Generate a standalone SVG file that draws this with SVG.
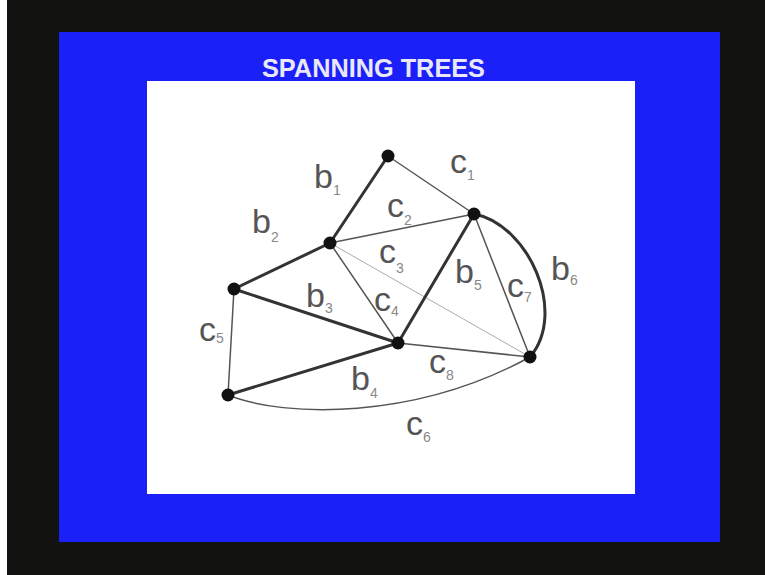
<svg xmlns="http://www.w3.org/2000/svg" width="765" height="575" viewBox="0 0 765 575">
<style>
.lbl{font-family:"Liberation Sans",Arial,sans-serif;font-size:34px;fill:#555}
.sub{font-size:14px;fill:#888}
.thick{stroke:#333;stroke-width:3;fill:none;stroke-linecap:round}
.thin{stroke:#555;stroke-width:1.5;fill:none;stroke-linecap:round}
.faint{stroke:#aaa;stroke-width:1;fill:none}
.node{fill:#111}
</style>
<rect x="0" y="0" width="765" height="575" fill="#121210"/>
<rect x="0" y="0" width="7" height="575" fill="#ffffff"/>
<rect x="59" y="32" width="661" height="510" fill="#1c20f8"/>
<rect x="147" y="81" width="488" height="413" fill="#ffffff"/>
<text x="373.5" y="77" text-anchor="middle" textLength="223" lengthAdjust="spacingAndGlyphs" font-family="Liberation Sans,Arial,sans-serif" font-weight="bold" font-size="25" fill="#e8e8f8">SPANNING TREES</text>
<g id="edges">
<path class="faint" d="M330,243 L530,357"/>
<path class="thick" d="M388,156 L330,243"/>
<path class="thin" d="M388,156 L474,214"/>
<path class="thin" d="M330,243 L474,214"/>
<path class="thick" d="M234,289 L330,243"/>
<path class="thin" d="M330,243 L398,343"/>
<path class="thick" d="M234,289 L398,343"/>
<path class="thick" d="M398,343 L474,214"/>
<path class="thin" d="M474,214 L530,357"/>
<path class="thick" d="M474,214 C528,224 568,312 530,357"/>
<path class="thin" d="M234,289 L228,395"/>
<path class="thick" d="M228,395 L398,343"/>
<path class="thin" d="M398,343 L530,357"/>
<path class="thin" d="M228,395 C285,418 415,420 530,357"/>
</g>
<g id="nA"><circle class="node" cx="388" cy="156" r="6.5"/></g>
<g id="nB"><circle class="node" cx="474" cy="214" r="6.5"/></g>
<g id="nC"><circle class="node" cx="330" cy="243" r="6.5"/></g>
<g id="nD"><circle class="node" cx="234" cy="289" r="6.5"/></g>
<g id="nE"><circle class="node" cx="398" cy="343" r="6.5"/></g>
<g id="nF"><circle class="node" cx="530" cy="357" r="6.5"/></g>
<g id="nG"><circle class="node" cx="228" cy="395" r="6.5"/></g>
<g id="labels">
<text class="lbl" x="314" y="188">b<tspan class="sub" dy="7">1</tspan></text>
<text class="lbl" x="450" y="173">c<tspan class="sub" dy="7">1</tspan></text>
<text class="lbl" x="252" y="233">b<tspan class="sub" dy="9">2</tspan></text>
<text class="lbl" x="387" y="217">c<tspan class="sub" dy="8">2</tspan></text>
<text class="lbl" x="379" y="263">c<tspan class="sub" dy="10">3</tspan></text>
<text class="lbl" x="306" y="307">b<tspan class="sub" dy="6">3</tspan></text>
<text class="lbl" x="374" y="311">c<tspan class="sub" dy="5">4</tspan></text>
<text class="lbl" x="455" y="283">b<tspan class="sub" dy="7">5</tspan></text>
<text class="lbl" x="507" y="297">c<tspan class="sub" dy="5">7</tspan></text>
<text class="lbl" x="551" y="280">b<tspan class="sub" dy="5">6</tspan></text>
<text class="lbl" x="199" y="341">c<tspan class="sub" dy="2">5</tspan></text>
<text class="lbl" x="429" y="373">c<tspan class="sub" dy="7">8</tspan></text>
<text class="lbl" x="351" y="390">b<tspan class="sub" dy="8">4</tspan></text>
<text class="lbl" x="406" y="435">c<tspan class="sub" dy="7">6</tspan></text>
</g>
</svg>
